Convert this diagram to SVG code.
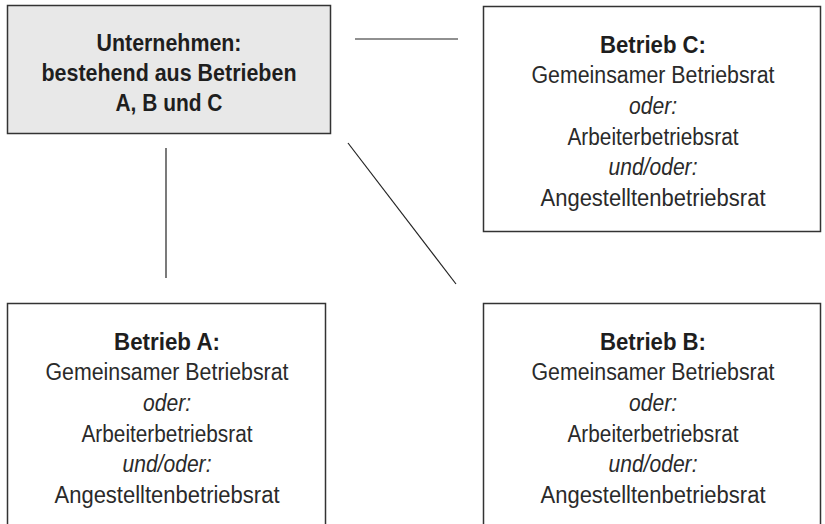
<svg xmlns="http://www.w3.org/2000/svg" width="825" height="524" viewBox="0 0 825 524">
<style>
.box{fill:#ffffff;stroke:#333333;stroke-width:1.5}
.grey{fill:#e8e8e8}
.t{font-family:"Liberation Sans",Arial,sans-serif;font-size:23px;fill:#2a2a2a;text-anchor:middle}
.b{font-weight:bold;font-size:23px;fill:#1e1e1e}
.i{font-style:italic}
.c{stroke:#222222;stroke-width:1.2;fill:none}
</style>
<rect width="825" height="524" fill="#ffffff"/>
<g id="connectors">
<line class="c" x1="355" y1="39" x2="458" y2="39"/>
<line class="c" x1="166" y1="148" x2="166" y2="278"/>
<line class="c" x1="348" y1="143" x2="456" y2="284"/>
</g>
<g id="unternehmen">
<rect class="box grey" x="7.5" y="5.5" width="323" height="128"/>
<text class="t b" x="169" y="51" textLength="145" lengthAdjust="spacingAndGlyphs">Unternehmen:</text>
<text class="t b" x="169" y="81" textLength="255" lengthAdjust="spacingAndGlyphs">bestehend aus Betrieben</text>
<text class="t b" x="169" y="111" textLength="107" lengthAdjust="spacingAndGlyphs">A, B und C</text>
</g>
<g id="betrieb-c">
<rect class="box" x="483.5" y="6.5" width="337" height="225"/>
<text class="t b" x="653" y="53" textLength="106" lengthAdjust="spacingAndGlyphs">Betrieb C:</text>
<text class="t" x="653" y="83" textLength="243" lengthAdjust="spacingAndGlyphs">Gemeinsamer Betriebsrat</text>
<text class="t i" x="653" y="114" textLength="48" lengthAdjust="spacingAndGlyphs">oder:</text>
<text class="t" x="653" y="145" textLength="171" lengthAdjust="spacingAndGlyphs">Arbeiterbetriebsrat</text>
<text class="t i" x="653" y="175" textLength="89" lengthAdjust="spacingAndGlyphs">und/oder:</text>
<text class="t" x="653" y="206" textLength="225" lengthAdjust="spacingAndGlyphs">Angestelltenbetriebsrat</text>
</g>
<g id="betrieb-a">
<rect class="box" x="7.5" y="303.5" width="318" height="240"/>
<text class="t b" x="167" y="350" textLength="106" lengthAdjust="spacingAndGlyphs">Betrieb A:</text>
<text class="t" x="167" y="380" textLength="243" lengthAdjust="spacingAndGlyphs">Gemeinsamer Betriebsrat</text>
<text class="t i" x="167" y="411" textLength="48" lengthAdjust="spacingAndGlyphs">oder:</text>
<text class="t" x="167" y="442" textLength="171" lengthAdjust="spacingAndGlyphs">Arbeiterbetriebsrat</text>
<text class="t i" x="167" y="472" textLength="89" lengthAdjust="spacingAndGlyphs">und/oder:</text>
<text class="t" x="167" y="503" textLength="225" lengthAdjust="spacingAndGlyphs">Angestelltenbetriebsrat</text>
</g>
<g id="betrieb-b">
<rect class="box" x="483.5" y="303.5" width="337" height="240"/>
<text class="t b" x="653" y="350" textLength="106" lengthAdjust="spacingAndGlyphs">Betrieb B:</text>
<text class="t" x="653" y="380" textLength="243" lengthAdjust="spacingAndGlyphs">Gemeinsamer Betriebsrat</text>
<text class="t i" x="653" y="411" textLength="48" lengthAdjust="spacingAndGlyphs">oder:</text>
<text class="t" x="653" y="442" textLength="171" lengthAdjust="spacingAndGlyphs">Arbeiterbetriebsrat</text>
<text class="t i" x="653" y="472" textLength="89" lengthAdjust="spacingAndGlyphs">und/oder:</text>
<text class="t" x="653" y="503" textLength="225" lengthAdjust="spacingAndGlyphs">Angestelltenbetriebsrat</text>
</g>
</svg>
